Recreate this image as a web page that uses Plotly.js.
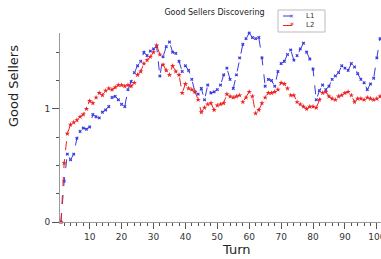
<!DOCTYPE html>
<html>
<head>
<meta charset="utf-8">
<script src="https://cdn.plot.ly/plotly-3.0.1.min.js"></script>
<style>html,body{margin:0;padding:0;background:#fff;}#chart{width:381px;height:259px;}</style>
</head>
<body>
<div id="chart"></div>
<script>
const turns = Array.from({length: 101}, (_, i) => i + 1);
const seriesL1 = [0,0.36,0.60,0.55,0.60,0.74,0.80,0.83,0.82,0.84,
  0.95,0.93,0.92,0.97,0.99,1.02,1.10,1.11,1.08,1.04,
  1.02,1.17,1.24,1.32,1.38,1.42,1.50,1.47,1.51,1.53,
  1.55,1.29,1.46,1.55,1.59,1.50,1.49,1.42,1.33,1.38,
  1.34,1.26,1.15,1.13,1.18,1.08,1.21,1.14,1.15,1.17,
  1.21,1.30,1.36,1.26,1.18,1.30,1.45,1.57,1.62,1.67,
  1.63,1.62,1.63,1.45,1.20,1.26,1.25,1.20,1.33,1.40,
  1.42,1.48,1.52,1.43,1.47,1.53,1.58,1.50,1.44,1.35,
  1.08,1.16,1.21,1.17,1.20,1.26,1.29,1.32,1.38,1.36,
  1.34,1.40,1.37,1.31,1.26,1.23,1.17,1.22,1.27,1.45,1.62];
const seriesL2 = [0,0.52,0.78,0.86,0.88,0.90,0.93,0.95,1.00,1.07,
  1.05,1.10,1.14,1.12,1.16,1.18,1.17,1.19,1.21,1.21,
  1.20,1.21,1.20,1.23,1.30,1.33,1.40,1.43,1.46,1.50,
  1.56,1.48,1.39,1.34,1.30,1.38,1.33,1.30,1.14,1.22,
  1.18,1.17,1.15,1.08,0.97,1.01,1.04,1.05,0.99,1.03,
  1.04,1.05,1.13,1.11,1.10,1.11,1.12,1.06,1.10,1.15,
  1.11,0.96,0.99,1.05,1.10,1.14,1.14,1.15,1.17,1.23,
  1.22,1.18,1.12,1.12,1.06,1.04,1.02,1.00,1.02,1.02,
  1.01,1.08,1.14,1.15,1.11,1.09,1.08,1.11,1.12,1.14,
  1.15,1.12,1.06,1.09,1.09,1.08,1.10,1.09,1.08,1.09,1.11];
const seriesNames = ['L1', 'L2'];
const seriesColors = ['#3a3ae0', '#ee2222'];
const yTickVals = [0, 1];
const yTickText = ['0', '1'];

const font = 'DejaVu Sans, sans-serif';
// pixel -> paper helpers (plot area: x 60..381, y 33..222)
const px = v => (v - 60) / 321;
const py = v => (222 - v) / 189;

const traces = [
  {x: turns, y: seriesL1, name: seriesNames[0], type: 'scatter', mode: 'lines+markers',
   line: {color: seriesColors[0], width: 1, dash: 'dash'},
   marker: {symbol: 'x', size: 3, color: seriesColors[0]}, cliponaxis: false},
  {x: turns, y: seriesL2, name: seriesNames[1], type: 'scatter', mode: 'lines+markers',
   line: {color: seriesColors[1], width: 1, dash: 'dash'},
   marker: {symbol: 'star', size: 4, color: seriesColors[1]}, cliponaxis: false}
];

// custom compact legend
const legendShapes = [
  {type: 'rect', xref: 'paper', yref: 'paper', x0: px(278), x1: px(325), y0: py(10), y1: py(32),
   line: {color: '#bbb', width: 1}, fillcolor: '#fff', layer: 'above'}
];
const legendAnn = [];
seriesNames.forEach((n, i) => {
  const yy = 16 + i * 9.5;
  legendShapes.push({type: 'line', xref: 'paper', yref: 'paper', x0: px(283), x1: px(300), y0: py(yy), y1: py(yy),
    line: {color: seriesColors[i], width: 1, dash: 'dash'}, layer: 'above'});
  legendAnn.push({text: i === 0 ? '×' : '*', xref: 'paper', yref: 'paper', x: px(291.5), y: py(yy + (i === 0 ? 0 : 1.5)),
    showarrow: false, xanchor: 'center', yanchor: 'middle', font: {family: font, size: i === 0 ? 6 : 8, color: seriesColors[i]}});
  legendAnn.push({text: n, xref: 'paper', yref: 'paper', x: px(304), y: py(yy), showarrow: false,
    xanchor: 'left', yanchor: 'middle', font: {family: font, size: 7, color: '#333'}});
});

const layout = {
  width: 381, height: 259,
  margin: {l: 60, r: 0, t: 33, b: 37, pad: 0},
  paper_bgcolor: '#fff', plot_bgcolor: '#fff',
  font: {family: font, size: 9, color: '#333'},
  title: {text: 'Good Sellers Discovering', font: {family: font, size: 8, color: '#222'},
          x: 0.563, xanchor: 'center', y: 0.953, yanchor: 'middle'},
  showlegend: false,
  xaxis: {range: [0.7, 101.3], showgrid: false, zeroline: false,
          showline: true, linecolor: '#999', linewidth: 1,
          ticks: 'outside', ticklen: 6, tickcolor: '#555', tickwidth: 1,
          tick0: 0, dtick: 10, ticklabeloverflow: 'allow',
          tickfont: {family: font, size: 9, color: '#333'},
          minor: {dtick: 2, tick0: 0, ticks: 'outside', ticklen: 3, tickcolor: '#555', showgrid: false}},
  yaxis: {range: [0, 1.67], showgrid: false, zeroline: false,
          showline: true, linecolor: '#999', linewidth: 1,
          ticks: 'outside', ticklen: 7, tickcolor: '#555', tickwidth: 1,
          tickmode: 'array', tickvals: yTickVals, ticktext: yTickText,
          tickfont: {family: font, size: 9, color: '#333'},
          minor: {tickmode: 'linear', tick0: 0, dtick: 0.25, ticks: 'outside', ticklen: 3, tickcolor: '#555', showgrid: false}},
  shapes: legendShapes,
  annotations: [
    {text: 'Good Sellers', xref: 'paper', yref: 'paper', x: px(13), y: py(86),
     showarrow: false, textangle: -90, xanchor: 'center', yanchor: 'middle',
     font: {family: font, size: 13, color: '#222'}},
    {text: 'Turn', xref: 'paper', yref: 'paper', x: px(237), y: py(249),
     showarrow: false, xanchor: 'center', yanchor: 'middle',
     font: {family: font, size: 13, color: '#222'}}
  ].concat(legendAnn)
};
Plotly.newPlot('chart', traces, layout, {displayModeBar: false, staticPlot: true});
</script>
</body>
</html>
